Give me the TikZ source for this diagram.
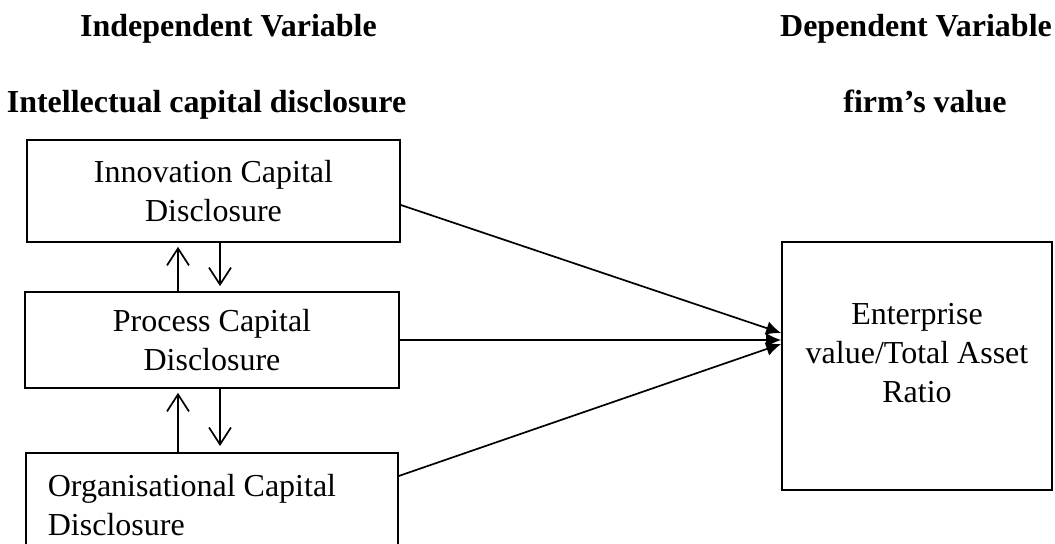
\documentclass[tikz,border=0pt]{standalone}
\usepackage{fontspec}
\setmainfont{Liberation Serif}
\usetikzlibrary{arrows.meta,positioning,calc}

\begin{document}
\begin{tikzpicture}[x=0.5pt,y=-0.5pt,line width=0.85pt,
  font=\fontsize{16}{19.5}\selectfont,
  box/.style={draw,align=center,inner sep=0pt},
  head/.style={anchor=base,font=\fontsize{16}{19.5}\selectfont\bfseries},
  link/.style={-{Straight Barb[length=8.5pt,width=11pt]}},
  effect/.style={-{Latex[length=7.5pt,width=7pt]}}]
\clip (0,0) rectangle (1055,544);
% headings
\node[head] (indep) at (228.5,37) {Independent Variable};
\node[head] (icd) at (206.5,113) {Intellectual capital disclosure};
\node[head] (dep) at (916,37) {Dependent Variable};
\node[head] (fv) at (925,113) {firm’s value};
% independent side
\node[box,minimum width=186.5pt,minimum height=51pt] (innov) at (213.5,191) {Innovation Capital\\Disclosure};
\node[box,minimum width=187pt,minimum height=48pt] (proc) at (212,340) {Process Capital\\Disclosure};
\node[box,anchor=north west,text width=164pt,inner xsep=11pt,minimum height=52pt,align=flush left] (org) at (25,452) {Organisational Capital\\Disclosure};
% dependent side
\node[box,minimum width=135pt,minimum height=124pt] (ratio) at (917,366) {Enterprise\\value/Total Asset\\Ratio\\[-6.5pt]};
% links between the disclosures
\coordinate (upx) at (178,0);
\coordinate (downx) at (220,0);
\draw[link,shorten >=2pt] (upx |- proc.north) -- (upx |- innov.south);
\draw[link,shorten >=2.5pt] (downx |- innov.south) -- (downx |- proc.north);
\draw[link,shorten >=2pt] (upx |- org.north) -- (upx |- proc.south);
\draw[link,shorten >=3pt] (downx |- proc.south) -- (downx |- org.north);
% effects on firm's value
\draw[effect] ([yshift=-7pt]innov.east) -- ([yshift=16.5pt]ratio.west);
\draw[effect] (proc.east) -- (proc.east -| ratio.west);
\draw[effect] ([yshift=-12pt]org.north east) -- ([yshift=11pt]ratio.west);
\end{tikzpicture}
\end{document}
